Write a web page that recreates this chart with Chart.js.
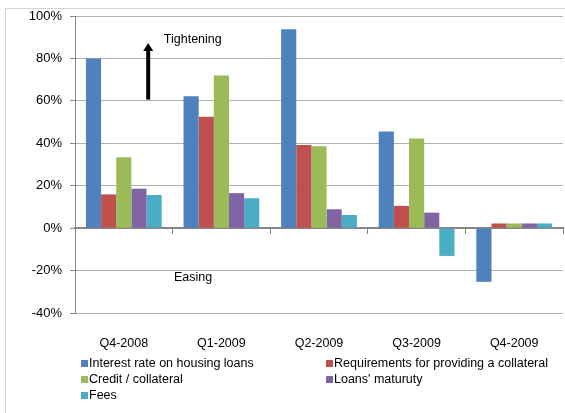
<!DOCTYPE html>
<html>
<head>
<meta charset="utf-8">
<script src="https://cdn.jsdelivr.net/npm/chart.js@4"></script>
<style>
  html, body { margin: 0; padding: 0; background: #fff; }
  #wrap { position: relative; width: 565px; height: 413px; overflow: hidden; }
  #frame { position: absolute; left: 5px; top: 8px; width: 620px; height: 480px; border: 1px solid #d4d4d4; box-sizing: border-box; }
  canvas { position: absolute; left: 0; top: 0; }
  #legend { position: absolute; left: 81px; top: 355px; display: grid; grid-template-columns: 245px auto; grid-auto-rows: 16px;
            font-family: "Liberation Sans", Arial, sans-serif; font-size: 12.5px; color: #000; }
  .item { display: flex; align-items: center; white-space: nowrap; }
  .sw { width: 7px; height: 7px; margin-right: 1px; }
</style>
</head>
<body>
<div id="wrap">
  <div id="frame"></div>
  <canvas id="c" width="565" height="413"></canvas>
  <div id="legend"></div>
</div>
<script>
const categories = ['Q4-2008', 'Q1-2009', 'Q2-2009', 'Q3-2009', 'Q4-2009'];
const interestRate = [80, 62.2, 93.8, 45.6, -25.3];
const collateralReq = [15.9, 52.5, 39.2, 10.5, 2.2];
const creditCollateral = [33.4, 71.9, 38.6, 42.2, 2.2];
const loansMaturity = [18.6, 16.5, 8.9, 7.3, 2.2];
const fees = [15.6, 14.1, 6.2, -13.1, 2.2];
const yTicks = [-40, -20, 0, 20, 40, 60, 80, 100];
const seriesNames = ['Interest rate on housing loans', 'Requirements for providing a collateral', 'Credit / collateral', "Loans' maturuty", 'Fees'];
const seriesColors = ['#4F81BD', '#C0504D', '#9BBB59', '#8064A2', '#4BACC6'];
const seriesData = [interestRate, collateralReq, creditCollateral, loansMaturity, fees];

const FONT = '"Liberation Sans", Arial, sans-serif';

const annotations = {
  id: 'annotations',
  afterDatasetsDraw(chart) {
    const x = chart.scales.x, y = chart.scales.y;
    const step = x.getPixelForValue(1) - x.getPixelForValue(0);
    const ctx = chart.ctx;
    ctx.save();
    // arrow
    const ax = x.getPixelForValue(0) + 0.25 * step;
    const tip = y.getPixelForValue(87.3), bot = y.getPixelForValue(60.6);
    ctx.fillStyle = '#000';
    ctx.fillRect(ax - 2, tip + 7, 4, bot - tip - 7);
    ctx.beginPath();
    ctx.moveTo(ax, tip);
    ctx.lineTo(ax + 5, tip + 8);
    ctx.lineTo(ax - 5, tip + 8);
    ctx.closePath();
    ctx.fill();
    ctx.font = '12.5px ' + FONT;
    ctx.textBaseline = 'middle';
    ctx.textAlign = 'left';
    ctx.fillText('Tightening', x.getPixelForValue(0) + 0.41 * step, y.getPixelForValue(88.7));
    ctx.textAlign = 'center';
    ctx.fillText('Easing', x.getPixelForValue(0) + 0.71 * step, y.getPixelForValue(-23.3));
    ctx.restore();
  }
};

const chart = new Chart(document.getElementById('c'), {
  type: 'bar',
  data: {
    labels: categories,
    datasets: seriesData.map((d, i) => ({
      label: seriesNames[i],
      data: d,
      backgroundColor: seriesColors[i],
      borderWidth: 0,
      categoryPercentage: 0.776,
      barPercentage: 1.0,
      xAxisID: 'x'
    }))
  },
  options: {
    responsive: false,
    animation: false,
    devicePixelRatio: 1,
    layout: { padding: { left: 0, right: 2, top: 16, bottom: 0 } },
    plugins: { legend: { display: false }, tooltip: { enabled: false } },
    scales: {
      x: {
        type: 'category',
        position: 'bottom',
        grid: { display: false, drawTicks: false },
        border: { display: false },
        ticks: { color: '#000', font: { family: FONT, size: 12.5 }, padding: 23, maxRotation: 0 },
        afterFit(s) { s.height = 100; }
      },
      x2: {
        type: 'category',
        labels: categories,
        position: { y: 0 },
        offset: true,
        grid: { display: true, offset: true, drawOnChartArea: false, drawTicks: true, tickLength: 5, color: '#868686', lineWidth: 1 },
        border: { display: true, color: '#868686', width: 2 },
        ticks: { display: false }
      },
      y: {
        min: -40, max: 100,
        afterBuildTicks(s) { s.ticks = yTicks.map(v => ({ value: v })); },
        grid: { color: '#b0b0b0', lineWidth: 1, borderDash: [1, 1], tickLength: 5, tickColor: '#868686', tickBorderDash: [] },
        border: { display: true, color: '#868686', width: 1 },
        ticks: { color: '#000', font: { family: FONT, size: 13 }, padding: 8, callback: v => v + '%' },
        afterFit(s) { s.width = 75; }
      }
    }
  },
  plugins: [annotations]
});

const legend = document.getElementById('legend');
chart.data.datasets.forEach(ds => {
  const it = document.createElement('div');
  it.className = 'item';
  const sw = document.createElement('span');
  sw.className = 'sw';
  sw.style.background = ds.backgroundColor;
  const t = document.createElement('span');
  t.textContent = ds.label;
  it.appendChild(sw); it.appendChild(t);
  legend.appendChild(it);
});
</script>
</body>
</html>
